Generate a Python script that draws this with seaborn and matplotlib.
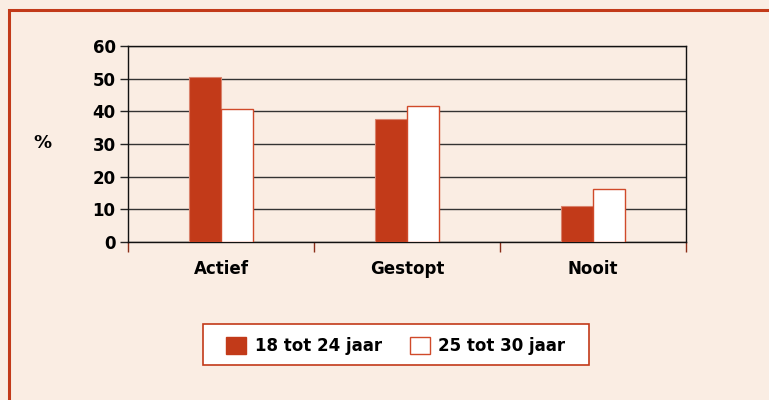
import pandas as pd
import matplotlib.pyplot as plt
import seaborn as sns
from matplotlib.patches import Rectangle

categories = ['Actief', 'Gestopt', 'Nooit']
groups = ['18 tot 24 jaar', '25 tot 30 jaar']
values_18_24 = [50.5, 37.7, 11.1]
values_25_30 = [40.7, 41.5, 16.1]
y_ticks = [0, 10, 20, 30, 40, 50, 60]

red = '#C23A19'
beige = '#FAEDE3'

df = pd.DataFrame({
    'categorie': categories * 2,
    'groep': [groups[0]] * 3 + [groups[1]] * 3,
    'procent': values_18_24 + values_25_30,
})

sns.set_style('ticks')
plt.rcParams['font.family'] = ['Liberation Sans Narrow', 'DejaVu Sans']
plt.rcParams['font.weight'] = 'bold'
plt.rcParams['text.color'] = 'black'
plt.rcParams['axes.labelcolor'] = 'black'
plt.rcParams['xtick.labelcolor'] = 'black'
plt.rcParams['ytick.labelcolor'] = 'black'

fig = plt.figure(figsize=(7.69, 4.0), dpi=100, facecolor=beige)
# outer frame and legend box
fig.patches.append(Rectangle((9 / 769, -0.1), 1.2, 1 - 10 / 400 + 0.1,
                             transform=fig.transFigure, facecolor='none',
                             edgecolor=red, linewidth=2.2, zorder=0))
fig.patches.append(Rectangle((203 / 769, 1 - 365 / 400), 386 / 769, 41 / 400,
                             transform=fig.transFigure, facecolor='white',
                             edgecolor=red, linewidth=1.2, zorder=1))
ax = fig.add_axes([128 / 769, 1 - 242 / 400, (686 - 128) / 769, (242 - 46) / 400])
ax.set_facecolor(beige)

sns.barplot(data=df, x='categorie', y='procent', hue='groep', order=categories,
            hue_order=groups, palette={groups[0]: red, groups[1]: 'white'},
            saturation=1, width=0.34, ax=ax, legend=False, zorder=3)

for bar in ax.containers[0]:
    bar.set_edgecolor('#D9826C')
    bar.set_linewidth(0.8)
for bar in ax.containers[1]:
    bar.set_edgecolor('#D04A2A')
    bar.set_linewidth(1.0)

ax.set_xlim(-0.5, 2.5)
ax.set_ylim(0, 60)
ax.set_yticks(y_ticks)
ax.set_yticklabels([str(t) for t in y_ticks], fontsize=12, fontweight='bold')
ax.set_xticks(range(3))
ax.set_xticklabels(categories, fontsize=12, fontweight='bold')
ax.set_xticks([-0.5, 0.5, 1.5, 2.5], minor=True)
ax.tick_params(axis='x', which='major', length=0, pad=13)
ax.tick_params(axis='x', which='minor', length=7, color='#8a2e18', width=1)
ax.tick_params(axis='y', length=6, width=1, color='#222222', pad=3)
ax.set_xlabel('')
ax.set_ylabel('%', fontsize=13, fontweight='bold', rotation=0, color='black')
ax.yaxis.set_label_coords(-0.153, 0.46)

ax.grid(axis='y', color='#333333', linewidth=1, zorder=1)
ax.set_axisbelow(True)
for side in ['left', 'bottom', 'right', 'top']:
    ax.spines[side].set_visible(True)
    ax.spines[side].set_color('#111111')
    ax.spines[side].set_linewidth(1)

handles = [Rectangle((0, 0), 1, 1, facecolor=red, edgecolor=red),
           Rectangle((0, 0), 1, 1, facecolor='white', edgecolor='#D04A2A')]
leg = fig.legend(handles, groups, loc='center', bbox_to_anchor=(396 / 769, 1 - 346 / 400),
                 ncol=2, frameon=False, fontsize=12,
                 handlelength=1.2, handleheight=1.2, columnspacing=1.7,
                 handletextpad=0.5, borderpad=0, borderaxespad=0)
for t in leg.get_texts():
    t.set_fontweight('bold')
    t.set_color('black')

fig.savefig('out.png', dpi=100, facecolor=beige)
